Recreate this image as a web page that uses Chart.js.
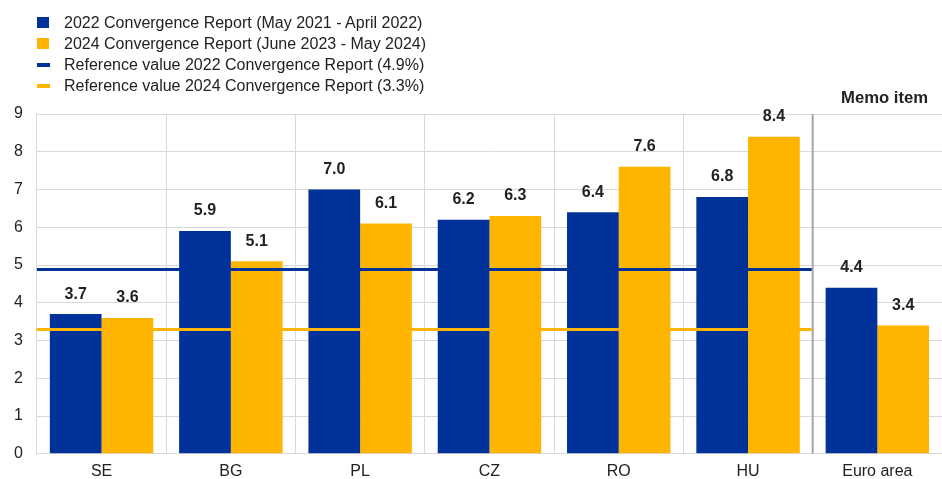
<!DOCTYPE html>
<html><head><meta charset="utf-8">
<script src="https://cdn.jsdelivr.net/npm/chart.js@4/dist/chart.umd.min.js"></script>
<style>
html,body{margin:0;padding:0;background:#fff;overflow:hidden;}
#wrap{position:relative;width:942px;height:479px;font-family:"Liberation Sans",Arial,sans-serif;}
#legend{position:absolute;left:37px;top:12px;font-size:16px;color:#222;line-height:21px;}
.li{display:flex;align-items:center;height:21px;}
.sw{width:12px;height:11px;margin-right:15px;}
.ln{width:13px;height:4px;margin-right:14px;}
#memo{position:absolute;left:841px;top:88px;font-weight:bold;font-size:16.7px;color:#222;}
</style></head>
<body><div id="wrap">
<canvas id="c" width="942" height="479"></canvas>
<div id="legend"></div>
<div id="memo">Memo item</div>
</div>
<script>
const categories = ["SE","BG","PL","CZ","RO","HU","Euro area"];
const series2022 = [3.7,5.9,7.0,6.2,6.4,6.8,4.4];
const series2024 = [3.6,5.1,6.1,6.3,7.6,8.4,3.4];
const refValue2022 = 4.9;
const refValue2024 = 3.3;
const yTicks = [0,1,2,3,4,5,6,7,8,9];
const seriesNames = ["2022 Convergence Report (May 2021 - April 2022)","2024 Convergence Report (June 2023 - May 2024)"];
const refNames = ["Reference value 2022 Convergence Report (4.9%)","Reference value 2024 Convergence Report (3.3%)"];
const memoStartIndex = 6;

const BLUE = "#003299", ORANGE = "#FFB400";

const leg = document.getElementById("legend");
[[seriesNames[0],BLUE,"sw"],[seriesNames[1],ORANGE,"sw"],[refNames[0],BLUE,"ln"],[refNames[1],ORANGE,"ln"]].forEach(([t,c,k])=>{
  const d=document.createElement("div");d.className="li";
  d.innerHTML='<span class="'+k+'" style="background:'+c+'"></span><span>'+t+'</span>';
  leg.appendChild(d);
});

const overlay = {
  id:"overlay",
  afterDatasetsDraw(chart){
    const ctx=chart.ctx, x=chart.scales.x, y=chart.scales.y, ca=chart.chartArea;
    const sepX=(x.getPixelForValue(memoStartIndex-1)+x.getPixelForValue(memoStartIndex))/2;
    ctx.save();
    ctx.strokeStyle="#a6a6a6";ctx.lineWidth=2;
    ctx.beginPath();ctx.moveTo(sepX,ca.top);ctx.lineTo(sepX,ca.bottom);ctx.stroke();
    [[refValue2022,BLUE],[refValue2024,ORANGE]].forEach(([v,c])=>{
      const py=Math.round(y.getPixelForValue(v))+0.5;
      ctx.strokeStyle=c;ctx.lineWidth=3;
      ctx.beginPath();ctx.moveTo(ca.left,py);ctx.lineTo(sepX-1,py);ctx.stroke();
    });
    ctx.fillStyle="#222";ctx.font="bold 16px 'Liberation Sans', Arial, sans-serif";
    ctx.textAlign="center";ctx.textBaseline="middle";
    chart.data.datasets.forEach((ds,di)=>{
      chart.getDatasetMeta(di).data.forEach((bar,i)=>{
        ctx.fillText(ds.data[i].toFixed(1),bar.x,bar.y-20);
      });
    });
    ctx.restore();
  }
};

new Chart(document.getElementById("c"),{
  type:"bar",
  data:{labels:categories,datasets:[
    {label:seriesNames[0],data:series2022,backgroundColor:BLUE,barPercentage:1.0,categoryPercentage:0.8},
    {label:seriesNames[1],data:series2024,backgroundColor:ORANGE,barPercentage:1.0,categoryPercentage:0.8}
  ]},
  options:{
    responsive:false,animation:false,
    layout:{padding:{top:114,right:0,left:0,bottom:-10}},
    plugins:{legend:{display:false},tooltip:{enabled:false}},
    scales:{
      x:{grid:{color:"#d9d9d9",lineWidth:1,offset:true,drawTicks:false},border:{color:"#d9d9d9"},
         ticks:{color:"#222",font:{family:"'Liberation Sans', Arial",size:16},padding:8}},
      y:{min:0,max:9,afterBuildTicks(s){s.ticks=yTicks.map(v=>({value:v}));},
         grid:{color:"#d9d9d9",drawTicks:false},border:{color:"#d9d9d9"},
         ticks:{color:"#222",font:{family:"'Liberation Sans', Arial",size:16},padding:14}}
    }
  },
  plugins:[overlay]
});
</script></body></html>
